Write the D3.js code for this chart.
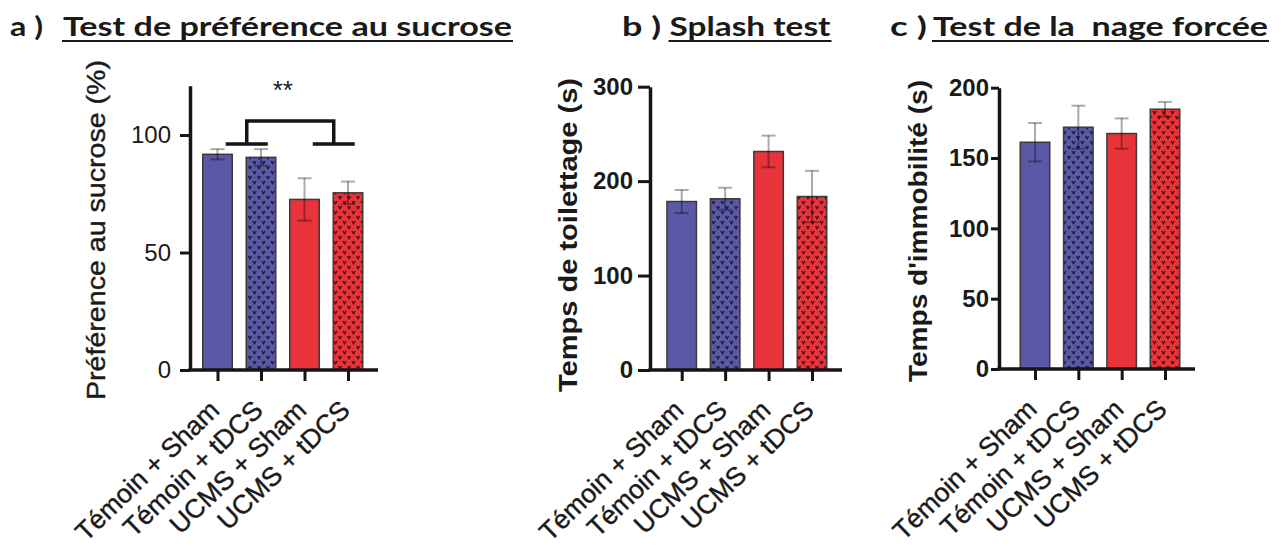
<!DOCTYPE html>
<html><head><meta charset="utf-8">
<script src="https://cdn.jsdelivr.net/npm/d3@7"></script>
<style>body{margin:0;background:#fff} svg{display:block}</style>
</head><body>
<svg id="chart" width="1288" height="547"></svg>
<script>
// ---------- data ----------
const categories = ["Témoin + Sham", "Témoin + tDCS", "UCMS + Sham", "UCMS + tDCS"];
const groups = ["Témoin", "Témoin", "UCMS", "UCMS"];
const stimulation = ["Sham", "tDCS", "Sham", "tDCS"];

const sucroseMeans = [91.8, 90.5, 72.6, 75.4];
const sucroseSEM   = [2.2, 3.5, 9.0, 4.8];
const sucroseTicks = [0, 50, 100];

const splashMeans = [178.4, 181.3, 231.4, 183.7];
const splashSEM   = [12.2, 11.7, 16.8, 27.2];
const splashTicks = [0, 100, 200, 300];

const swimMeans = [161.2, 171.9, 167.4, 184.7];
const swimSEM   = [13.7, 15.3, 10.8, 5.2];
const swimTicks = [0, 50, 100, 150, 200];

// significance annotation (panel a): group of bars vs group of bars
const sucroseSignif = [{left: [0, 1], right: [2, 3], armValue: 96.2, topValue: 106, label: "**"}];

// ---------- styles ----------
const groupFill = {"Témoin": "#5b58a7", "UCMS": "#e8333b"};
const ink = "#151515";
const FONT = "'Liberation Sans', Arial, sans-serif";
const TFONT = "Lato, 'Open Sans', sans-serif";

const svg = d3.select("#chart");
const defs = svg.append("defs");
const pat = defs.append("pattern").attr("id", "vpat")
  .attr("patternUnits", "userSpaceOnUse").attr("width", 9).attr("height", 10);
pat.append("path")
  .attr("d", "M1,1 L2.5,3.6 L4,1 M5.5,6 L7,8.6 L8.5,6")
  .attr("fill", "none").attr("stroke", "#000").attr("stroke-opacity", 0.7).attr("stroke-width", 1.4);

const panels = [
  {means: sucroseMeans, sem: sucroseSEM, ticks: sucroseTicks, domain: [0, 121], range: [370, 85.7],
   axisX: 190, xRange: [217.5, 348], axisEnd: 378, tickLen: 10, tickPad: 9, tickWeight: "normal",
   ylabel: "Préférence au sucrose (%)", ylabelX: 105, ylabelY: 230, ylabelLen: 340, ylabelWeight: "normal",
   prefix: "a )", prefixX: 10, prefixLen: 33, title: "Test de préférence au sucrose", titleX: 63, titleLen: 449,
   signif: sucroseSignif},
  {means: splashMeans, sem: splashSEM, ticks: splashTicks, domain: [0, 300], range: [370, 86.7],
   axisX: 650, xRange: [681.7, 812], axisEnd: 842, tickLen: 12, tickPad: 5, tickWeight: "bold",
   ylabel: "Temps de toilettage (s)", ylabelX: 577, ylabelY: 235, ylabelLen: 314, ylabelWeight: "bold",
   prefix: "b )", prefixX: 622, prefixLen: 39, title: "Splash test", titleX: 669.5, titleLen: 161,
   signif: []},
  {means: swimMeans, sem: swimSEM, ticks: swimTicks, domain: [0, 200], range: [369, 87.7],
   axisX: 999, xRange: [1035, 1165], axisEnd: 1195, tickLen: 8, tickPad: 2, tickWeight: "bold",
   ylabel: "Temps d'immobilité (s)", ylabelX: 927, ylabelY: 231, ylabelLen: 302, ylabelWeight: "bold",
   prefix: "c )", prefixX: 890, prefixLen: 37, title: "Test de la  nage forcée", titleX: 933, titleLen: 335,
   signif: []}
];

const barW = 29.5, capW = 14;

panels.forEach(p => {
  const y = d3.scaleLinear().domain(p.domain).range(p.range);
  const x = d3.scalePoint().domain(categories).range(p.xRange);
  const g = svg.append("g");
  const rows = categories.map((c, i) => ({c, i, m: p.means[i], s: p.sem[i], grp: groups[i], stim: stimulation[i]}));

  // bars
  g.selectAll("rect.bar").data(rows).join("rect").attr("class", "bar")
    .attr("x", d => x(d.c) - barW / 2).attr("width", barW)
    .attr("y", d => y(d.m)).attr("height", d => y(0) - y(d.m))
    .attr("fill", d => groupFill[d.grp]);
  g.selectAll("rect.pat").data(rows.filter(d => d.stim === "tDCS")).join("rect").attr("class", "pat")
    .attr("x", d => x(d.c) - barW / 2).attr("width", barW)
    .attr("y", d => y(d.m)).attr("height", d => y(0) - y(d.m))
    .attr("fill", "url(#vpat)");
  g.selectAll("rect.outl").data(rows).join("rect").attr("class", "outl")
    .attr("x", d => x(d.c) - barW / 2).attr("width", barW)
    .attr("y", d => y(d.m)).attr("height", d => y(0) - y(d.m))
    .attr("fill", "none").attr("stroke", "#3a3a3a").attr("stroke-width", 1.5);

  // error bars
  const eb = g.selectAll("g.err").data(rows).join("g").attr("class", "err")
    .attr("stroke", "#000").attr("stroke-opacity", 0.33).attr("stroke-width", 2);
  eb.append("line").attr("x1", d => x(d.c)).attr("x2", d => x(d.c))
    .attr("y1", d => y(d.m - d.s)).attr("y2", d => y(d.m + d.s));
  eb.append("line").attr("x1", d => x(d.c) - capW / 2).attr("x2", d => x(d.c) + capW / 2)
    .attr("y1", d => y(d.m + d.s)).attr("y2", d => y(d.m + d.s));
  eb.append("line").attr("x1", d => x(d.c) - capW / 2).attr("x2", d => x(d.c) + capW / 2)
    .attr("y1", d => y(d.m - d.s)).attr("y2", d => y(d.m - d.s));

  // y axis
  const ya = g.append("g").attr("transform", `translate(${p.axisX},0)`)
    .call(d3.axisLeft(y).tickValues(p.ticks).tickSize(p.tickLen).tickSizeOuter(0).tickPadding(p.tickPad).tickFormat(d3.format("d")));
  ya.selectAll("path.domain").attr("stroke", ink).attr("stroke-width", 3.5);
  ya.selectAll(".tick line").attr("stroke", ink).attr("stroke-width", 3);
  ya.selectAll(".tick text").attr("fill", "#1a1a1a").attr("font-family", FONT)
    .attr("font-size", 24).attr("font-weight", p.tickWeight);

  // x axis
  const xa = g.append("g").attr("transform", `translate(0,${y(0)})`)
    .call(d3.axisBottom(x).tickSize(11).tickSizeOuter(0));
  xa.select("path.domain").remove();
  xa.append("line").attr("x1", p.axisX - 1.5).attr("x2", p.axisEnd).attr("y1", 0).attr("y2", 0)
    .attr("stroke", ink).attr("stroke-width", 3.5);
  xa.selectAll(".tick line").attr("stroke", ink).attr("stroke-width", 3);
  xa.selectAll(".tick text").attr("fill", "#1a1a1a").attr("font-family", FONT).attr("font-size", 26.5)
    .attr("stroke", "#1a1a1a").attr("stroke-width", 0.4)
    .attr("text-anchor", "end").attr("x", 0).attr("y", 0).attr("dy", 0)
    .attr("transform", "translate(3,42) rotate(-44)");

  // y label
  g.append("text").attr("transform", `translate(${p.ylabelX},${p.ylabelY}) rotate(-90)`)
    .attr("text-anchor", "middle").attr("font-family", FONT).attr("font-size", 26)
    .attr("font-weight", p.ylabelWeight).attr("fill", "#1a1a1a")
    .attr("stroke", p.ylabelWeight === "normal" ? "#1a1a1a" : "none").attr("stroke-width", 0.4)
    .attr("textLength", p.ylabelLen).attr("lengthAdjust", "spacingAndGlyphs")
    .text(p.ylabel);

  // title
  g.append("text").attr("x", p.prefixX).attr("y", 36).attr("font-family", TFONT).attr("font-weight", 700)
    .attr("font-size", 27).attr("fill", "#1a1a1a")
    .attr("textLength", p.prefixLen).attr("lengthAdjust", "spacingAndGlyphs").text(p.prefix);
  g.append("text").attr("x", p.titleX).attr("y", 36).attr("font-family", TFONT).attr("font-weight", 700)
    .attr("font-size", 27).attr("fill", "#1a1a1a").style("white-space", "pre")
    .attr("textLength", p.titleLen).attr("lengthAdjust", "spacingAndGlyphs").text(p.title);
  g.append("line").attr("x1", p.titleX - 1).attr("x2", p.titleX + p.titleLen + 1)
    .attr("y1", 41).attr("y2", 41).attr("stroke", "#1a1a1a").attr("stroke-width", 2);

  // significance
  p.signif.forEach(s => {
    const cl = d3.mean(s.left, i => x(categories[i])) + 7.5;
    const cr = d3.mean(s.right, i => x(categories[i])) + 7.5;
    const arm = 21;
    const path = d3.path();
    path.moveTo(cl - arm, y(s.armValue)); path.lineTo(cl + arm, y(s.armValue));
    path.moveTo(cl, y(s.armValue)); path.lineTo(cl, y(s.topValue)); path.lineTo(cr, y(s.topValue)); path.lineTo(cr, y(s.armValue));
    path.moveTo(cr - arm, y(s.armValue)); path.lineTo(cr + arm, y(s.armValue));
    g.append("path").attr("d", path.toString()).attr("fill", "none").attr("stroke", ink).attr("stroke-width", 3.5);
    const cAll = d3.mean(s.left.concat(s.right), i => x(categories[i]));
    g.append("text").attr("x", cAll).attr("y", y(s.topValue) - 22).attr("text-anchor", "middle")
      .attr("font-family", FONT).attr("font-size", 26).attr("fill", "#1a1a1a").text(s.label);
  });
});
</script>
</body></html>
